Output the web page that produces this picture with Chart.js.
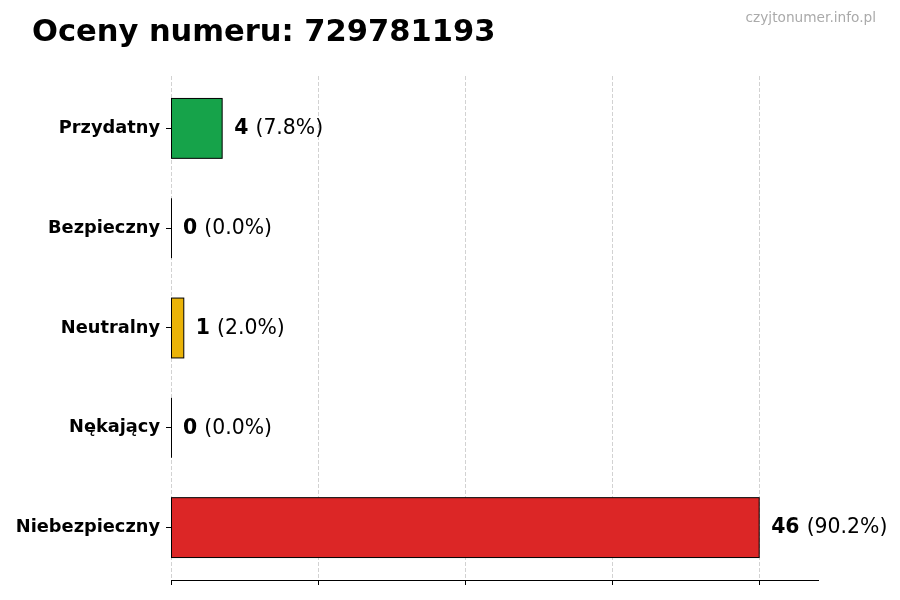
<!DOCTYPE html>
<html>
<head>
<meta charset="utf-8">
<script src="https://cdn.jsdelivr.net/npm/chart.js@4.4.1/dist/chart.umd.min.js"></script>
<style>
html,body{margin:0;padding:0;background:#fff;}
#wrap{width:900px;height:600px;position:relative;}
</style>
</head>
<body>
<div id="wrap"><canvas id="c" width="900" height="600"></canvas></div>
<script>
const titleText = 'Oceny numeru: 729781193';
const watermark = 'czyjtonumer.info.pl';
const categories = ['Przydatny', 'Bezpieczny', 'Neutralny', 'Nękający', 'Niebezpieczny'];
const values = [4, 0, 1, 0, 46];
const barColors = ['#16a34a', '#3b82f6', '#eab308', '#f97316', '#dc2626'];

const total = values.reduce((a, b) => a + b, 0);
const xMax = Math.max(...values) * 1.1;
const FONT = '"DejaVu Sans", sans-serif';

const overlayPlugin = {
  id: 'overlay',
  afterDatasetsDraw(chart) {
    const ctx = chart.ctx;
    const meta = chart.getDatasetMeta(0);
    ctx.save();
    meta.data.forEach((el, i) => {
      const p = el.getProps(['x', 'y', 'base', 'height'], true);
      const left = Math.min(p.x, p.base), w = Math.abs(p.x - p.base);
      ctx.strokeStyle = '#000';
      ctx.lineWidth = 1;
      if (w < 0.5) {
        ctx.beginPath();
        ctx.moveTo(Math.round(left) + 0.5, p.y - p.height / 2);
        ctx.lineTo(Math.round(left) + 0.5, p.y + p.height / 2);
        ctx.stroke();
      } else {
        ctx.strokeRect(left, p.y - p.height / 2, w, p.height);
      }
      const v = values[i];
      const pct = '(' + (total ? (v / total * 100).toFixed(1) : '0.0') + '%)';
      let tx = Math.max(p.x, p.base) + 12;
      ctx.fillStyle = '#000';
      ctx.textBaseline = 'middle';
      ctx.textAlign = 'left';
      ctx.font = 'bold 20.4px ' + FONT;
      const s1 = String(v);
      ctx.fillText(s1, tx, p.y + 0.5);
      tx += ctx.measureText(s1 + ' ').width;
      ctx.font = '20.4px ' + FONT;
      ctx.fillText(pct, tx, p.y + 0.5);
    });
    ctx.restore();
  },
  afterDraw(chart) {
    const ctx = chart.ctx;
    ctx.save();
    ctx.fillStyle = '#000';
    ctx.textBaseline = 'alphabetic';
    ctx.textAlign = 'left';
    ctx.font = 'bold 30.5px ' + FONT;
    ctx.fillText(titleText, 32, 41);
    ctx.fillStyle = '#aaaaaa';
    ctx.textAlign = 'right';
    ctx.font = '13.7px ' + FONT;
    ctx.fillText(watermark, 876, 22);
    ctx.restore();
  }
};

new Chart(document.getElementById('c'), {
  type: 'bar',
  data: {
    datasets: [{
      data: values.map((v, i) => ({ x: v, y: i })),
      backgroundColor: barColors,
      borderWidth: 0,
      barPercentage: 0.6,
      categoryPercentage: 1.0
    }]
  },
  options: {
    indexAxis: 'y',
    responsive: false,
    animation: false,
    devicePixelRatio: 1,
    layout: { padding: { top: 76, right: 82, bottom: 0, left: 0 } },
    plugins: { legend: { display: false }, tooltip: { enabled: false }, title: { display: false } },
    scales: {
      x: {
        type: 'linear',
        position: 'bottom',
        min: 0,
        max: xMax,
        z: 1,
        offset: false,
        afterBuildTicks(scale) {
          scale.ticks = [0, 1, 2, 3, 4].map(k => ({ value: Math.max(...values) * k / 4 }));
        },
        afterFit(scale) { scale.height = 20; },
        ticks: { display: false },
        grid: {
          display: true,
          offset: false,
          drawOnChartArea: true,
          drawTicks: true,
          tickLength: 5,
          color: 'rgba(180,180,180,0.6)',
          lineWidth: 1,
          tickColor: '#000',
          tickBorderDash: [],
          tickWidth: 1
        },
        border: { display: true, color: '#000', width: 1, dash: [4, 2] }
      },
      y: {
        type: 'linear',
        min: -0.525,
        max: categories.length - 1 + 0.525,
        reverse: true,
        offset: false,
        afterBuildTicks(scale) {
          scale.ticks = categories.map((c, i) => ({ value: i }));
        },
        afterFit(scale) { scale.width = 171; },
        ticks: {
          callback: (v) => categories[Math.round(v)],
          color: '#000',
          font: { family: 'DejaVu Sans', size: 17.8, weight: 'bold' },
          padding: 6
        },
        grid: {
          offset: false,
          drawOnChartArea: false,
          drawTicks: true,
          tickLength: 5,
          tickColor: '#000'
        },
        border: { display: false }
      }
    }
  },
  plugins: [overlayPlugin]
});
</script>
</body>
</html>
